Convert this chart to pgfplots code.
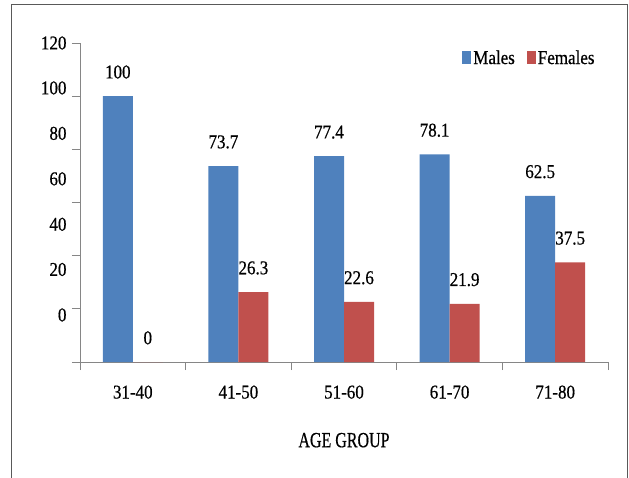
\documentclass[border=0pt]{standalone}
\usepackage{fontspec}
\setmainfont{Liberation Serif}[FakeBold=0.6]
\usepackage{graphicx}
\usepackage{pgfplots}
\pgfplotsset{compat=1.18}
\definecolor{males}{HTML}{4F81BD}
\definecolor{females}{HTML}{C0504D}
\definecolor{axgray}{HTML}{868686}
\newcommand{\st}[1]{\scalebox{1}[1.15]{#1}}
\pgfplotsset{sqlegend/.style={legend image code/.code={\fill[##1] (0pt,-6.5pt) rectangle (9pt,6.5pt);}}}

\begin{document}
\begin{tikzpicture}[font=\fontsize{17}{20}\selectfont]
\useasboundingbox (0,0) rectangle (629pt,477pt);
\draw[line width=1.5pt, black!65] (11.5pt,-2pt) -- (11.5pt,472.5pt) -- (627.5pt,472.5pt) -- (627.5pt,-2pt);
\begin{axis}[
  at={(80pt,115pt)}, anchor=south west,
  scale only axis, width=528pt, height=319pt,
  xmin=0.5, xmax=5.5, ymin=0, ymax=120,
  axis x line=bottom, axis y line=left,
  axis line style={axgray, -, line width=0.8pt},
  tick style={axgray, line width=0.8pt},
  ybar, bar width=30pt,
  xtick={0.5,1.5,...,5.5}, x tick label as interval,
  xticklabels={\st{31-40},\st{41-50},\st{51-60},\st{61-70},\st{71-80}},
  xtick align=outside, ytick align=outside,
  major tick length=8pt,
  xticklabel style={yshift=-12pt},
  ytick={0,20,...,120}, yticklabels={,,,,,,},
  extra y ticks={120,103.1,86,68.9,51.8,34.8,17.7},
  extra y tick labels={\st{120},\st{100},\st{80},\st{60},\st{40},\st{20},\st{0}},
  extra y tick style={/pgfplots/major tick length=0pt, yticklabel style={xshift=-10pt}},
  xlabel={\fontsize{16}{19}\selectfont\scalebox{1}[1.35]{AGE GROUP}},
  xlabel style={at={(axis description cs:0.5,-0.245)}, anchor=center},
  nodes near coords={\st{\pgfmathprintnumber[assume math mode=true]{\pgfplotspointmeta}}},
  every node near coord/.append style={yshift=14pt},
  legend columns=-1,
  legend style={at={(axis description cs:0.718,0.953)}, anchor=west, draw=none, fill=none,
    /tikz/every even column/.append style={column sep=10pt}},
]
\addplot[fill=males, draw=none, bar shift=-15pt, sqlegend]
  coordinates {(1,100) (2,73.7) (3,77.4) (4,78.1) (5,62.5)};
\addplot[fill=females, draw=none, bar shift=15pt, sqlegend]
  coordinates {(1,0) (2,26.3) (3,22.6) (4,21.9) (5,37.5)};
\legend{\st{Males},\st{Females}}
\end{axis}
\end{tikzpicture}
\end{document}
